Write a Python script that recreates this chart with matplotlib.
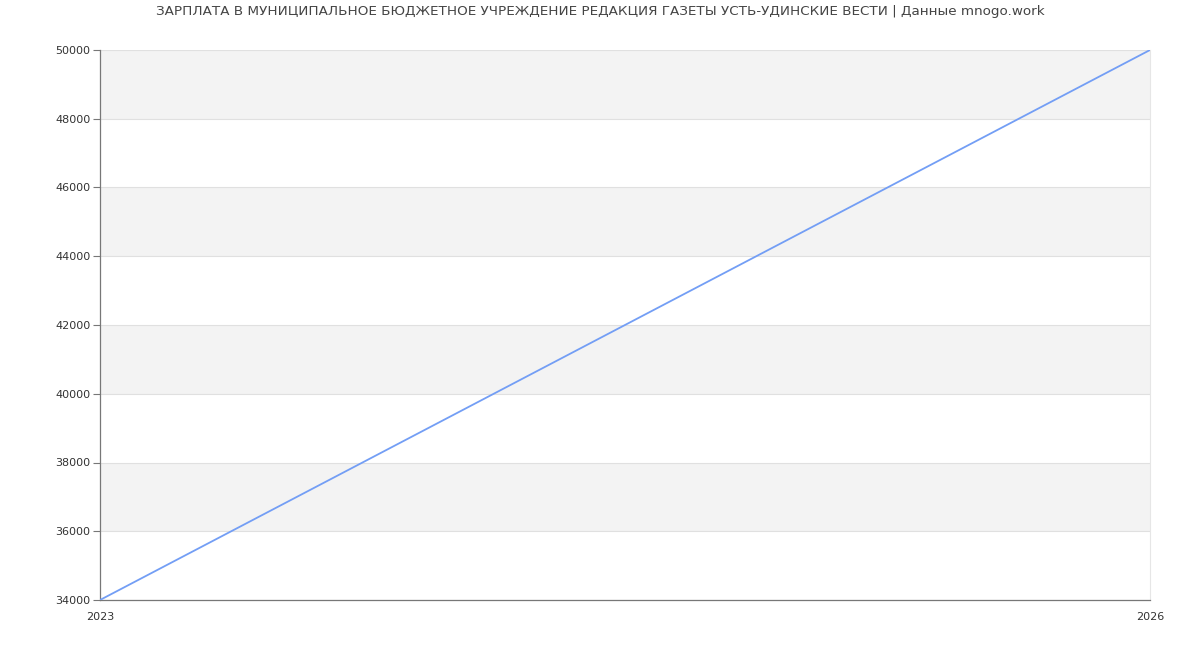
import numpy as np
import matplotlib.pyplot as plt

# данные
years = [2023, 2026]
salary = [34000, 50000]
y_ticks = list(range(34000, 50001, 2000))
title = "ЗАРПЛАТА В МУНИЦИПАЛЬНОЕ БЮДЖЕТНОЕ УЧРЕЖДЕНИЕ РЕДАКЦИЯ ГАЗЕТЫ УСТЬ-УДИНСКИЕ ВЕСТИ | Данные mnogo.work"

fig = plt.figure(figsize=(12, 6.5), dpi=100)
ax = fig.add_axes([100 / 1200, 1 - 600 / 650, 1050 / 1200, 550 / 650])

# чередующиеся полосы
for i in range(len(y_ticks) - 1):
    if i % 2 == 1:
        ax.axhspan(y_ticks[i], y_ticks[i + 1], color='#f3f3f3', zorder=0, lw=0)
for t in y_ticks:
    ax.axhline(t, color='#e0e0e0', lw=0.8, zorder=1)

ax.plot(years, salary, color='#739ef5', lw=1.3, zorder=3)

ax.set_xlim(2023, 2026)
ax.set_ylim(34000, 50000)
ax.set_yticks(y_ticks)
ax.set_xticks(years)
ax.tick_params(axis='y', length=5, color='#777777', labelsize=8, labelcolor='#333333', pad=2)
ax.tick_params(axis='x', length=0, labelsize=8, labelcolor='#333333', pad=9)

for s in ['left', 'bottom']:
    ax.spines[s].set_color('#777777')
    ax.spines[s].set_linewidth(0.9)
ax.spines['top'].set_visible(False)
ax.spines['right'].set_color('#e6e6e6')
ax.spines['right'].set_linewidth(0.8)

fig.text(0.5, 1 - 12 / 650, title, ha='center', va='center', fontsize=9.7, color='#444444')

fig.savefig('out.png', dpi=100)
